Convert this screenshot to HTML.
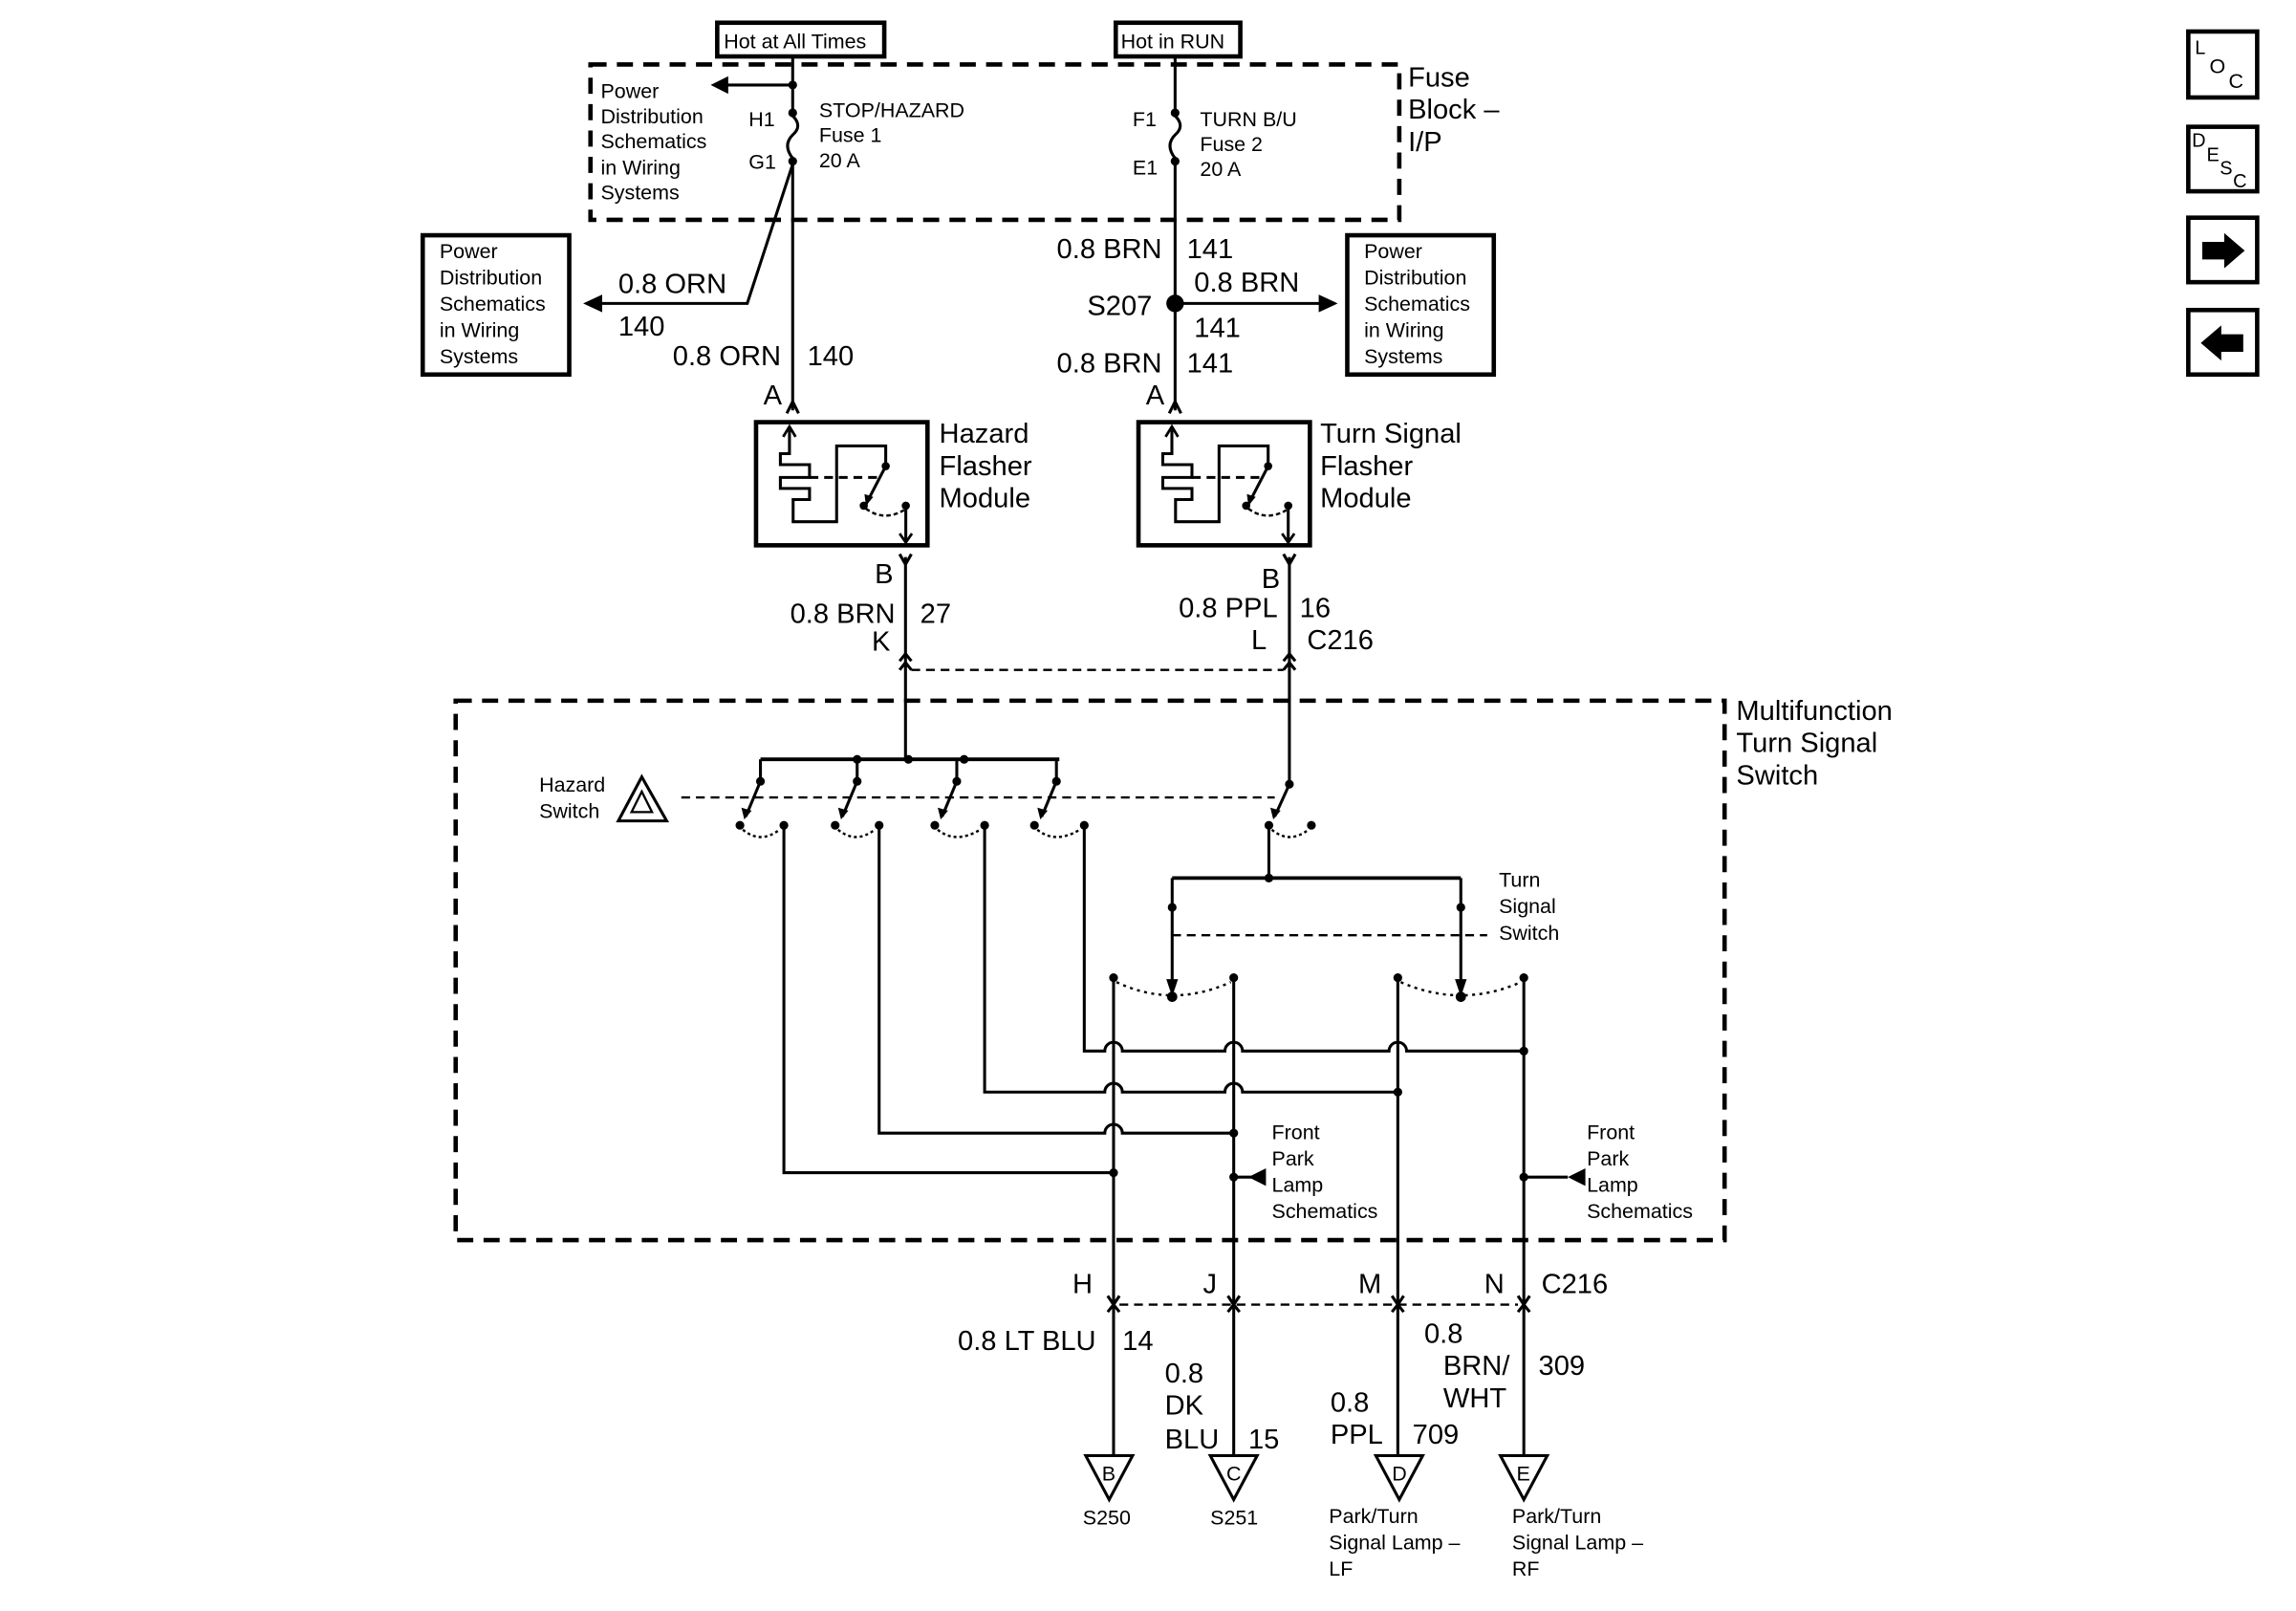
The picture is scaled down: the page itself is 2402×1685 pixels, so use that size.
<!DOCTYPE html>
<html><head><meta charset="utf-8"><style>
html,body{margin:0;padding:0;background:#fff;}
svg{display:block;}
text{font-family:"Liberation Sans",Arial,sans-serif;fill:#000;}
.s{font-size:14px;}
.m{font-size:19px;}
</style></head><body>
<svg width="2402" height="1685" viewBox="0 0 1567 1099" preserveAspectRatio="none" xmlns="http://www.w3.org/2000/svg">
<defs>
<g id="mod">
<path d="M538.8 293 V309.5 H532.6 V317 H552.5 V325.7 H532.6 V333.2 H552.5 V340.8 H541.3 V355.9 H571 V304.2 H604.5 V317" fill="none" stroke="#000" stroke-width="2"/>
<path d="M534.5 298 L538.8 291 L543 298" fill="none" stroke="#000" stroke-width="1.8"/>
<line x1="552.5" y1="325.7" x2="600" y2="325.7" stroke="#000" stroke-width="2" stroke-dasharray="6,4"/>
<circle cx="604.5" cy="318" r="2.8"/>
<line x1="604.5" y1="318" x2="591" y2="344" stroke="#000" stroke-width="2"/>
<path d="M590 337 L591 345 L596 339 Z"/>
<circle cx="589.5" cy="345" r="2.8"/>
<circle cx="618.2" cy="345" r="2.8"/>
<path d="M591 347 Q603 356 617 348" fill="none" stroke="#000" stroke-width="1.6" stroke-dasharray="3,2"/>
<line x1="618.2" y1="345" x2="618.2" y2="370" stroke="#000" stroke-width="2"/>
<path d="M614 364 L618.2 370 L622.4 364" fill="none" stroke="#000" stroke-width="1.8"/>
</g>
</defs>
<g stroke="#000" fill="none" stroke-width="2">
<rect x="489.5" y="15.5" width="114" height="23" stroke-width="3"/>
<rect x="761.5" y="15.5" width="85" height="23" stroke-width="3"/>
<rect x="403" y="44" width="552" height="106" stroke-width="3" stroke-dasharray="11,7"/>
<rect x="288.5" y="160.5" width="100" height="95" stroke-width="3"/>
<rect x="919.5" y="160.5" width="100" height="95" stroke-width="3"/>
<rect x="516" y="288" width="117" height="84" stroke-width="3"/>
<rect x="777" y="288" width="117" height="84" stroke-width="3"/>
<rect x="311" y="478" width="866" height="368" stroke-width="3" stroke-dasharray="11,7"/>
<line x1="541" y1="38" x2="541" y2="75"/>
<path d="M541 79 Q548 86 541 92 Q534 99 541 108"/>
<line x1="541" y1="110" x2="541" y2="280"/>
<line x1="541" y1="58" x2="494" y2="58"/>
<path d="M541 112 L510 207 L408 207"/>
<line x1="802" y1="38" x2="802" y2="75"/>
<path d="M802 79 Q809 86 802 92 Q795 99 802 108"/>
<line x1="802" y1="110" x2="802" y2="280"/>
<line x1="802" y1="207" x2="903" y2="207"/>
<path d="M537 282 L541 274 L545 282"/>
<path d="M798 282 L802 274 L806 282"/>
<path d="M614 378 L618 385 L622 378"/>
<path d="M876 378 L880 385 L884 378"/>
<line x1="618" y1="380" x2="618" y2="518"/>
<line x1="880" y1="380" x2="880" y2="535"/>
<path d="M614 451 L618 446 L622 451 M614 457 L618 452 L622 457"/>
<path d="M876 451 L880 446 L884 451 M876 457 L880 452 L884 457"/>
<line x1="622" y1="457" x2="876" y2="457" stroke-dasharray="6,4" stroke-width="1.6"/>
<line x1="519" y1="518" x2="723" y2="518" stroke-width="2.5"/>
<line x1="519" y1="518" x2="519" y2="533"/>
<line x1="585" y1="518" x2="585" y2="533"/>
<line x1="653" y1="518" x2="653" y2="533"/>
<line x1="721" y1="518" x2="721" y2="533"/>
<line x1="465" y1="544" x2="870" y2="544" stroke-dasharray="6,4" stroke-width="1.6"/>
<line x1="519" y1="533" x2="509" y2="557"/>
<line x1="585" y1="533" x2="575" y2="557"/>
<line x1="653" y1="533" x2="643" y2="557"/>
<line x1="721" y1="533" x2="711" y2="557"/>
<line x1="880" y1="535" x2="870" y2="557"/>
<path d="M507 566 Q519 576 532 566" stroke-dasharray="2,2" stroke-width="1.6"/>
<path d="M572 566 Q584 576 597 566" stroke-dasharray="2,2" stroke-width="1.6"/>
<path d="M640 566 Q652 576 669 566" stroke-dasharray="2,2" stroke-width="1.6"/>
<path d="M708 566 Q720 576 737 566" stroke-dasharray="2,2" stroke-width="1.6"/>
<path d="M868 566 Q880 576 893 566" stroke-dasharray="2,2" stroke-width="1.6"/>
<path d="M535 563 V800 H760"/>
<path d="M600 563 V773 H754 A6 6 0 0 1 766 773 H842"/>
<path d="M672 563 V745 H754 A6 6 0 0 1 766 745 H836 A6 6 0 0 1 848 745 H954"/>
<path d="M740 563 V717 H754 A6 6 0 0 1 766 717 H836 A6 6 0 0 1 848 717 H948 A6 6 0 0 1 960 717 H1040"/>
<line x1="866" y1="563" x2="866" y2="599"/>
<line x1="800" y1="599" x2="997" y2="599" stroke-width="2.5"/>
<line x1="800" y1="599" x2="800" y2="678"/>
<line x1="997" y1="599" x2="997" y2="678"/>
<line x1="800" y1="638" x2="1015" y2="638" stroke-dasharray="6,4" stroke-width="1.6"/>
<path d="M762 670 Q800 688 840 670" stroke-dasharray="2,3" stroke-width="1.6"/>
<path d="M956 670 Q997 688 1038 670" stroke-dasharray="2,3" stroke-width="1.6"/>
<line x1="760" y1="667" x2="760" y2="890"/>
<line x1="842" y1="667" x2="842" y2="890"/>
<line x1="954" y1="667" x2="954" y2="890"/>
<line x1="1040" y1="667" x2="1040" y2="890"/>
<line x1="842" y1="803" x2="858" y2="803"/>
<line x1="1040" y1="803" x2="1070" y2="803"/>
<path d="M756 884 L760 890 L764 884 M756 895 L760 890 L764 895"/>
<path d="M838 884 L842 890 L846 884 M838 895 L842 890 L846 895"/>
<path d="M950 884 L954 890 L958 884 M950 895 L954 890 L958 895"/>
<path d="M1036 884 L1040 890 L1044 884 M1036 895 L1040 890 L1044 895"/>
<line x1="764" y1="890" x2="1036" y2="890" stroke-dasharray="6,4" stroke-width="1.6"/>
<line x1="760" y1="890" x2="760" y2="993"/>
<line x1="842" y1="890" x2="842" y2="993"/>
<line x1="954" y1="890" x2="954" y2="993"/>
<line x1="1040" y1="890" x2="1040" y2="993"/>
<path d="M741 993 H773 L757 1023 Z"/>
<path d="M826 993 H858 L842 1023 Z"/>
<path d="M939 993 H971 L955 1023 Z"/>
<path d="M1024 993 H1056 L1040 1023 Z"/>
<path d="M422 560 L438 530 L455 560 Z"/>
<path d="M431 554 L438 540 L445 554 Z" stroke-width="1.5"/>
<rect x="1493.5" y="21.5" width="47" height="45" stroke-width="3"/>
<rect x="1493.5" y="86.5" width="47" height="44" stroke-width="3"/>
<rect x="1493.5" y="148.5" width="47" height="44" stroke-width="3"/>
<rect x="1493.5" y="211.5" width="47" height="44" stroke-width="3"/>
</g>
<path d="M485 58 L497 52 L497 64 Z"/>
<path d="M398 207 L411 201 L411 213 Z"/>
<path d="M913 207 L900 201 L900 213 Z"/>
<path d="M852 803 L864 797 L864 809 Z"/>
<path d="M1070 803 L1082 797 L1082 809 Z"/>
<path d="M796 668 L800 680 L804 668 Z"/>
<path d="M993 668 L997 680 L1001 668 Z"/>
<path d="M506 551 L508 559 L513 553 Z"/>
<path d="M572 551 L574 559 L579 553 Z"/>
<path d="M640 551 L642 559 L647 553 Z"/>
<path d="M708 551 L710 559 L715 553 Z"/>
<path d="M867 551 L869 559 L874 553 Z"/>
<g>
<circle cx="541" cy="58" r="3"/><circle cx="541" cy="77" r="3"/><circle cx="541" cy="110" r="3"/>
<circle cx="802" cy="77" r="3"/><circle cx="802" cy="110" r="3"/>
<circle cx="802" cy="207" r="6"/>
<circle cx="620" cy="518" r="3"/><circle cx="585" cy="518" r="3"/><circle cx="658" cy="518" r="3"/>
<circle cx="519" cy="533" r="3"/><circle cx="585" cy="533" r="3"/><circle cx="653" cy="533" r="3"/><circle cx="721" cy="533" r="3"/><circle cx="880" cy="535" r="3"/>
<circle cx="505" cy="563" r="3"/><circle cx="535" cy="563" r="3"/><circle cx="570" cy="563" r="3"/><circle cx="600" cy="563" r="3"/>
<circle cx="638" cy="563" r="3"/><circle cx="672" cy="563" r="3"/><circle cx="706" cy="563" r="3"/><circle cx="740" cy="563" r="3"/>
<circle cx="866" cy="563" r="3"/><circle cx="895" cy="563" r="3"/>
<circle cx="866" cy="599" r="3"/><circle cx="800" cy="619" r="3"/><circle cx="997" cy="619" r="3"/>
<circle cx="760" cy="667" r="3"/><circle cx="842" cy="667" r="3"/><circle cx="954" cy="667" r="3"/><circle cx="1040" cy="667" r="3"/>
<circle cx="800" cy="680" r="3.5"/><circle cx="997" cy="680" r="3.5"/>
<circle cx="1040" cy="717" r="3"/><circle cx="954" cy="745" r="3"/><circle cx="842" cy="773" r="3"/><circle cx="760" cy="800" r="3"/>
<circle cx="842" cy="803" r="3"/><circle cx="1040" cy="803" r="3"/>
</g>
<use href="#mod"/>
<use href="#mod" transform="translate(261,0)"/>
<path d="M1503 165 H1518 V159 L1532 171 L1518 183 V177 H1503 Z"/>
<path d="M1531 228 H1516 V222 L1502 234 L1516 246 V240 H1531 Z"/>
<text x="1498" y="37" style="font-size:13px">L</text><text x="1508" y="50" style="font-size:14px">O</text><text x="1521" y="60" style="font-size:14px">C</text>
<text x="1496" y="100" style="font-size:13px">D</text><text x="1506" y="110" style="font-size:13px">E</text><text x="1515" y="119" style="font-size:13px">S</text><text x="1524" y="128" style="font-size:13px">C</text>
<text x="494" y="33" class="s">Hot at All Times</text>
<text x="765" y="33" class="s">Hot in RUN</text>
<text class="m" x="961" y="59">Fuse</text><text class="m" x="961" y="81">Block –</text><text class="m" x="961" y="103">I/P</text>
<text class="s" x="410" y="67">Power</text><text class="s" x="410" y="84">Distribution</text><text class="s" x="410" y="101">Schematics</text><text class="s" x="410" y="119">in Wiring</text><text class="s" x="410" y="136">Systems</text>
<text class="s" x="511" y="86">H1</text><text class="s" x="511" y="115">G1</text>
<text class="s" x="559" y="80">STOP/HAZARD</text><text class="s" x="559" y="97">Fuse 1</text><text class="s" x="559" y="114">20 A</text>
<text class="s" x="773" y="86">F1</text><text class="s" x="773" y="119">E1</text>
<text class="s" x="819" y="86">TURN B/U</text><text class="s" x="819" y="103">Fuse 2</text><text class="s" x="819" y="120">20 A</text>
<text class="s" x="300" y="176">Power</text><text class="s" x="300" y="194">Distribution</text><text class="s" x="300" y="212">Schematics</text><text class="s" x="300" y="230">in Wiring</text><text class="s" x="300" y="248">Systems</text>
<text class="s" x="931" y="176">Power</text><text class="s" x="931" y="194">Distribution</text><text class="s" x="931" y="212">Schematics</text><text class="s" x="931" y="230">in Wiring</text><text class="s" x="931" y="248">Systems</text>
<text class="m" x="422" y="200">0.8 ORN</text><text class="m" x="422" y="229">140</text>
<text class="m" x="533" y="249" text-anchor="end">0.8 ORN</text><text class="m" x="551" y="249">140</text>
<text class="m" x="521" y="276">A</text>
<text class="m" x="793" y="176" text-anchor="end">0.8 BRN</text><text class="m" x="810" y="176">141</text>
<text class="m" x="815" y="199">0.8 BRN</text><text class="m" x="815" y="230">141</text>
<text class="m" x="742" y="215">S207</text>
<text class="m" x="793" y="254" text-anchor="end">0.8 BRN</text><text class="m" x="810" y="254">141</text>
<text class="m" x="782" y="276">A</text>
<text class="m" x="641" y="302">Hazard</text><text class="m" x="641" y="324">Flasher</text><text class="m" x="641" y="346">Module</text>
<text class="m" x="901" y="302">Turn Signal</text><text class="m" x="901" y="324">Flasher</text><text class="m" x="901" y="346">Module</text>
<text class="m" x="597" y="398">B</text>
<text class="m" x="611" y="425" text-anchor="end">0.8 BRN</text><text class="m" x="628" y="425">27</text>
<text class="m" x="595" y="444">K</text>
<text class="m" x="861" y="401">B</text>
<text class="m" x="872" y="421" text-anchor="end">0.8 PPL</text><text class="m" x="887" y="421">16</text>
<text class="m" x="854" y="443">L</text><text class="m" x="892" y="443">C216</text>
<text class="m" x="1185" y="491">Multifunction</text><text class="m" x="1185" y="513">Turn Signal</text><text class="m" x="1185" y="535">Switch</text>
<text class="s" x="368" y="540">Hazard</text><text class="s" x="368" y="558">Switch</text>
<text class="s" x="1023" y="605">Turn</text><text class="s" x="1023" y="623">Signal</text><text class="s" x="1023" y="641">Switch</text>
<text class="s" x="868" y="777">Front</text><text class="s" x="868" y="795">Park</text><text class="s" x="868" y="813">Lamp</text><text class="s" x="868" y="831">Schematics</text>
<text class="s" x="1083" y="777">Front</text><text class="s" x="1083" y="795">Park</text><text class="s" x="1083" y="813">Lamp</text><text class="s" x="1083" y="831">Schematics</text>
<text class="m" x="732" y="882">H</text><text class="m" x="821" y="882">J</text><text class="m" x="927" y="882">M</text><text class="m" x="1013" y="882">N</text><text class="m" x="1052" y="882">C216</text>
<text class="m" x="748" y="921" text-anchor="end">0.8 LT BLU</text><text class="m" x="766" y="921">14</text>
<text class="m" x="795" y="943">0.8</text><text class="m" x="795" y="965">DK</text><text class="m" x="795" y="988">BLU</text><text class="m" x="852" y="988">15</text>
<text class="m" x="908" y="963">0.8</text><text class="m" x="908" y="985">PPL</text><text class="m" x="964" y="985">709</text>
<text class="m" x="972" y="916">0.8</text><text class="m" x="985" y="938">BRN/</text><text class="m" x="985" y="960">WHT</text><text class="m" x="1050" y="938">309</text>
<text class="s" x="752" y="1010">B</text><text class="s" x="837" y="1010">C</text><text class="s" x="950" y="1010">D</text><text class="s" x="1035" y="1010">E</text>
<text class="s" x="739" y="1040">S250</text><text class="s" x="826" y="1040">S251</text>
<text class="s" x="907" y="1039">Park/Turn</text><text class="s" x="907" y="1057">Signal Lamp –</text><text class="s" x="907" y="1075">LF</text>
<text class="s" x="1032" y="1039">Park/Turn</text><text class="s" x="1032" y="1057">Signal Lamp –</text><text class="s" x="1032" y="1075">RF</text>
</svg>
</body></html>
